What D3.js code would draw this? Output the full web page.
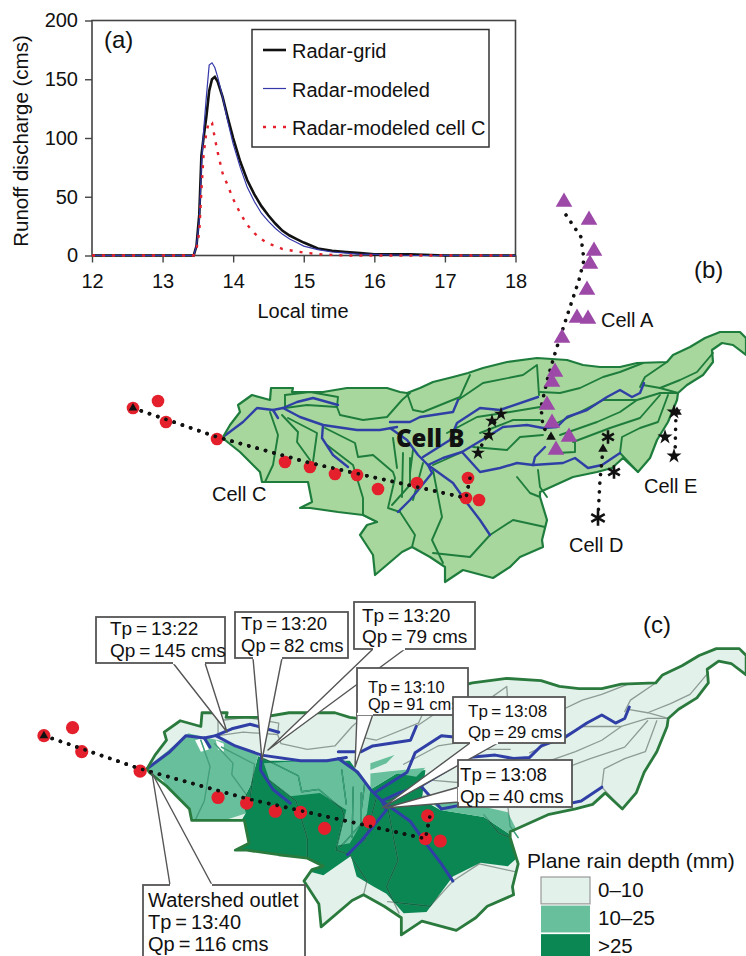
<!DOCTYPE html>
<html>
<head>
<meta charset="utf-8">
<script src="https://cdn.jsdelivr.net/npm/d3@7"></script>
<style>
  html, body { margin: 0; background: #fff; }
  svg { display: block; }
  text { font-family: "Liberation Sans", Arial, sans-serif; fill: #111; }
</style>
</head>
<body>
<svg id="fig" width="746" height="956"></svg>
<script>
// ---- panel (a) hydrograph values
var hours = [12, 13, 13.44, 13.48, 13.52, 13.55, 13.58, 13.62, 13.66, 13.7, 13.74, 13.78, 13.85, 13.92, 14, 14.1, 14.2, 14.3, 14.4, 14.5, 14.6, 14.7, 14.8, 14.9, 15, 15.2, 15.4, 15.6, 15.8, 16, 16.5, 17, 18];
var radarGrid = [0, 0, 0, 8, 35, 85, 100, 118, 140, 150, 152, 148, 135, 118, 100, 80, 64, 52, 42, 34, 27, 21, 17, 14, 11, 6, 4, 3, 2, 1, 1, 0, 0];
var radarModeled = [0, 0, 0, 8, 30, 75, 105, 135, 162, 164, 160, 152, 135, 115, 95, 75, 58, 46, 36, 29, 23, 18, 14, 11, 8, 5, 3, 2, 1, 1, 0, 0, 0];
var radarCellC = [0, 0, 0, 5, 20, 55, 85, 105, 114, 113, 100, 88, 70, 60, 48, 36, 26, 19, 14, 10, 8, 5.5, 4.5, 3.5, 2.5, 1.2, 0.5, 0, 0, 0, 0, 0, 0];
var xTicks = [12, 13, 14, 15, 16, 17, 18];
var yTicks = [0, 50, 100, 150, 200];
var legendNames = ["Radar-grid", "Radar-modeled", "Radar-modeled cell C"];

// ---- basin geometry in map units
var outline = [[223,437],[230,425],[240,412],[238,405],[252,395],[270,400],[271,388],[293,388],[292,392],[323,392],[347,388],[387,388],[400,392],[407,393],[420,388],[433,382],[453,377],[468,373],[483,368],[507,362],[537,358],[567,360],[583,365],[600,367],[620,367],[637,363],[667,362],[673,355],[690,347],[705,338],[720,332],[740,332],[746,338],[746,355],[733,345],[722,343],[712,350],[713,362],[703,375],[687,385],[678,393],[677,400],[668,422],[657,440],[650,458],[638,472],[623,458],[612,468],[597,472],[573,477],[540,492],[540,497],[547,520],[542,540],[543,547],[520,557],[510,567],[493,578],[463,570],[445,582],[445,567],[430,557],[412,547],[402,552],[375,575],[373,555],[360,535],[367,525],[377,522],[363,515],[338,512],[310,508],[300,508],[312,502],[308,482],[262,482],[260,472],[240,452],[225,440]];
var ridges = [
  [[285,395],[285,408],[307,405],[337,407],[340,415],[363,420],[387,417],[402,400],[410,393]],
  [[285,395],[310,392],[338,397],[337,407]],
  [[270,412],[278,435],[273,465],[265,482]],
  [[282,415],[298,432],[297,442],[310,460]],
  [[288,418],[317,433],[313,462]],
  [[325,428],[355,443],[358,457],[373,455],[393,472],[395,478],[388,508],[400,512]],
  [[327,445],[353,465],[363,498],[363,515],[377,522]],
  [[393,438],[397,468]],
  [[410,458],[410,485],[392,505]],
  [[400,512],[415,535],[412,547]],
  [[470,375],[460,397],[423,412],[413,410],[407,393]],
  [[458,400],[483,383],[523,375],[537,365],[539,395]],
  [[447,433],[477,417],[510,412],[540,407]],
  [[480,433],[513,420],[540,420]],
  [[473,447],[507,450],[520,437],[543,435]],
  [[517,477],[530,493],[540,497]],
  [[538,470],[540,487],[547,497]],
  [[433,470],[442,517],[432,540],[443,563]],
  [[490,535],[513,520],[545,527]],
  [[490,535],[470,557],[433,553]],
  [[403,453],[402,497]],
  [[413,450],[410,473]],
  [[423,463],[413,500]],
  [[460,453],[433,465]],
  [[540,392],[560,393],[580,388],[603,377],[620,372],[643,363]],
  [[640,387],[645,377],[667,362]],
  [[643,385],[660,388],[680,380],[697,372],[713,353]],
  [[660,388],[678,393]],
  [[557,423],[580,412],[603,400],[637,400],[660,393],[678,393]],
  [[560,435],[597,422],[620,412],[637,400]],
  [[573,442],[610,428],[640,418],[660,395]],
  [[620,453],[622,437],[640,428],[658,422],[668,395]],
  [[620,453],[638,472]],
  [[575,442],[575,452],[557,453]]
];
var streams = [
  [[223,437],[243,422],[257,408],[273,410],[283,408],[297,402],[313,398],[338,405]],
  [[283,408],[300,417],[323,425],[357,430],[380,430],[397,427]],
  [[323,425],[322,438],[333,455],[348,467]],
  [[273,410],[278,418]],
  [[390,428],[407,440],[418,455],[428,465],[432,473],[410,500],[398,512]],
  [[428,465],[443,458],[462,452],[480,472],[500,468],[517,463],[533,465],[563,463],[575,458],[588,468],[602,465],[620,453]],
  [[428,465],[453,483],[467,503],[480,520],[490,535]],
  [[533,465],[535,457],[545,447]],
  [[390,422],[410,422],[420,417],[453,412],[458,400]],
  [[423,457],[450,440],[457,423],[480,408],[500,410],[538,397]],
  [[462,452],[487,437],[503,427],[527,425],[543,428],[557,427],[567,417],[587,410],[607,397],[620,390],[632,397],[640,393],[644,383]]
];
var zoneOver25 = [
  [[320,426],[313,452],[307,464],[309,476],[295,500],[295,515],[340,520],[377,530],[401,513],[406,531],[421,540],[432,546],[447,563],[467,562],[490,531],[514,519],[538,522],[548,513],[547,499],[517,479],[479,473],[463,464],[466,438],[441,441],[418,455],[400,430],[330,430]]
];
var zone10to25 = [
  [[221,437],[240,422],[259,406],[298,415],[320,425],[313,452],[307,464],[309,476],[284,484],[255,484],[237,447]],
  [[325,432],[394,428],[403,438],[418,455],[415,476],[400,502],[389,504],[397,473],[374,458],[348,461],[330,447]],
  [[479,473],[517,479],[547,499],[549,497],[538,475],[495,465],[463,460]],
  [[418,441],[435,439],[466,436],[458,444],[441,441],[418,455]],
  [[418,432],[439,425],[432,432],[418,438]]
];
var whiteGaps = [
  [[265,412],[272,410],[277,420],[270,422]],
  [[283,412],[290,415],[290,422],[285,420]]
];

// ---- storm cell tracks and gauges
var cellCPoints = [[133,408],[158,401],[166,422],[217,439],[285,462],[310,467],[335,474],[357,475],[378,489],[417,483],[468,478],[466,498],[479,500]];
var cellCTrack = [[133,408],[217,437],[310,463],[417,487],[466,498],[470,478]];
var cellAPoints = [[564,202],[589,220],[594,251],[590,264],[587,290],[577,318],[588,319],[562,338],[555,372],[552,382],[547,405],[552,423],[569,437],[556,450]];
var cellATrack = [[566,215],[581,237],[584,260],[579,280],[569,310],[556,350],[548,377],[541,407],[543,427],[551,437]];
var cellBPoints = [[478,453],[489,435],[492,421],[501,414]];
var cellBTrack = [[478,453],[489,430],[501,414]];
var cellDPoints = [[598,518],[614,472],[608,437]];
var cellDTrack = [[598,518],[600,480],[603,449]];
var cellEPoints = [[674,412],[665,437],[674,456]];
var cellETrack = [[676,412],[675,456]];
var arrowHeads = [[551,437],[603,449],[677,412]];

var calloutLines = [
  ["Tp\u2009=\u200913:22", "Qp\u2009=\u2009145 cms"],
  ["Tp\u2009=\u200913:20", "Qp\u2009=\u200982 cms"],
  ["Tp\u2009=\u200913:20", "Qp\u2009=\u200979 cms"],
  ["Tp\u2009=\u200913:10", "Qp\u2009=\u200991 cms"],
  ["Tp\u2009=\u200913:08", "Qp\u2009=\u200929 cms"],
  ["Tp\u2009=\u200913:08", "Qp\u2009=\u200940 cms"],
  ["Watershed outlet", "Tp\u2009=\u200913:40", "Qp\u2009=\u2009116 cms"]
];
var rainClasses = ["0\u201310", "10\u201325", ">25"];

// ---- scales
var svg = d3.select("#fig");
var x = d3.scaleLinear().domain([12, 18]).range([92, 515.5]);
var y = d3.scaleLinear().domain([0, 200]).range([255.5, 20.5]);
var bx = d3.scaleLinear().domain([216, 745]).range([216, 745]);
var by = d3.scaleLinear().domain([438, 580]).range([438, 580]);
var cx = d3.scaleLinear().domain([216, 745]).range([139, 745]);
var cy = d3.scaleLinear().domain([438, 580]).range([770, 932.6]);

var axisColor = "#444";
var greenFill = "#a7d79d", greenLine = "#1e7d3c", blue = "#2f3fa6", red = "#e3202b", purple = "#9c49a8";
var lightRain = "#e2f1ea", midRain = "#68bf9c", darkRain = "#0b8753";

// ---- panel (a)
var a = svg.append("g");
a.append("rect").attr("x", x(12)).attr("y", y(200)).attr("width", x(18) - x(12)).attr("height", y(0) - y(200))
  .attr("fill", "none").attr("stroke", axisColor).attr("stroke-width", 1.6);

var xAxis = a.append("g").attr("transform", "translate(0," + y(0) + ")")
  .call(d3.axisBottom(x).tickValues(xTicks).tickSize(7).tickFormat(d3.format("d")).tickPadding(11));
var yAxis = a.append("g").attr("transform", "translate(" + x(12) + ",0)")
  .call(d3.axisLeft(y).tickValues(yTicks).tickSize(7).tickPadding(7));
[xAxis, yAxis].forEach(function(ax) {
  ax.select(".domain").remove();
  ax.selectAll("line").attr("stroke", axisColor).attr("stroke-width", 1.4);
  ax.selectAll("text").attr("font-size", 20).attr("font-family", '"Liberation Sans", Arial, sans-serif').attr("fill", "#111");
});

var curve = d3.line().x(function(d) { return x(d[0]); }).y(function(d) { return y(d[1]); });
var seriesStyle = [
  { values: radarGrid, color: "#111", width: 2.6, dash: null },
  { values: radarModeled, color: "#3438a8", width: 1.2, dash: null },
  { values: radarCellC, color: red, width: 2.4, dash: "3 7" }
];
seriesStyle.forEach(function(s, i) {
  var pts = hours.map(function(h, j) { return [h, s.values[j]]; });
  a.append("path").attr("d", curve(pts)).attr("fill", "none")
    .attr("stroke", s.color).attr("stroke-width", s.width).attr("stroke-dasharray", s.dash);
  // legend row
  var ly = 50 + i * 38.5;
  a.append("line").attr("x1", 263).attr("x2", 286).attr("y1", ly).attr("y2", ly)
    .attr("stroke", s.color).attr("stroke-width", s.width).attr("stroke-dasharray", s.dash);
});
a.append("rect").attr("x", 252).attr("y", 29.5).attr("width", 237).attr("height", 117.5)
  .attr("fill", "none").attr("stroke", "#333").attr("stroke-width", 1.5);
legendNames.forEach(function(n, i) {
  a.append("text").attr("x", 292).attr("y", 58 + i * 38.5).attr("font-size", 20).text(n);
});
a.append("text").attr("x", 104).attr("y", 48).attr("font-size", 24).text("(a)");
a.append("text").attr("x", 303).attr("y", 318).attr("text-anchor", "middle").attr("font-size", 20).text("Local time");
a.append("text").attr("transform", "translate(28,141) rotate(-90)").attr("text-anchor", "middle").attr("font-size", 20.5).text("Runoff discharge (cms)");

// ---- shared map helpers
function pathFor(sx, sy) {
  return d3.line().x(function(d) { return sx(d[0]); }).y(function(d) { return sy(d[1]); });
}
function addClip(id, polys, line) {
  var c = svg.append("clipPath").attr("id", id);
  polys.forEach(function(p) { c.append("path").attr("d", line(p) + "Z"); });
  return "url(#" + id + ")";
}
function drawLines(g, list, line, color, width) {
  g.selectAll(null).data(list).enter().append("path")
    .attr("d", line).attr("fill", "none").attr("stroke", color)
    .attr("stroke-width", width).attr("stroke-linejoin", "round").attr("stroke-linecap", "round");
}
function drawTrack(g, track, line) {
  g.append("path").attr("d", line(track)).attr("fill", "none").attr("stroke", "#111")
    .attr("stroke-width", 3.6).attr("stroke-linecap", "round").attr("stroke-dasharray", "0.1 8.6");
}
function drawSymbols(g, pts, sx, sy, type, size, color) {
  g.selectAll(null).data(pts).enter().append("path")
    .attr("transform", function(d) { return "translate(" + sx(d[0]) + "," + sy(d[1]) + ")"; })
    .attr("d", d3.symbol().type(type).size(size)).attr("fill", color);
}
function drawCellC(g, line, sx, sy, r) {
  drawTrack(g, cellCTrack, line);
  g.selectAll(null).data(cellCPoints).enter().append("circle")
    .attr("cx", function(d) { return sx(d[0]); }).attr("cy", function(d) { return sy(d[1]); })
    .attr("r", r).attr("fill", red);
  drawTrack(g, cellCTrack, line);
  drawSymbols(g, [cellCPoints[0]], sx, sy, d3.symbolTriangle, 32, "#111");
}

// ---- panel (b)
var b = svg.append("g");
var bLine = pathFor(bx, by);
b.append("path").attr("d", bLine(outline) + "Z").attr("fill", greenFill);
drawLines(b, ridges, bLine, greenLine, 1.9);
drawLines(b, streams, bLine, blue, 2.4);
b.append("path").attr("d", bLine(outline) + "Z").attr("fill", "none").attr("stroke", greenLine)
  .attr("stroke-width", 2.2).attr("stroke-linejoin", "round");
drawTrack(b, cellATrack, bLine);
drawTrack(b, cellBTrack, bLine);
drawTrack(b, cellDTrack, bLine);
drawTrack(b, cellETrack, bLine);
drawCellC(b, bLine, bx, by, 6.3);
drawSymbols(b, cellAPoints, bx, by, d3.symbolTriangle, 120, purple);
drawSymbols(b, cellBPoints, bx, by, d3.symbolStar, 60, "#111");
drawSymbols(b, cellEPoints, bx, by, d3.symbolStar, 70, "#111");
drawSymbols(b, arrowHeads, bx, by, d3.symbolTriangle, 40, "#111");
b.selectAll(null).data(cellDPoints).enter().append("path")
  .attr("transform", function(d) { return "translate(" + bx(d[0]) + "," + by(d[1]) + ")"; })
  .attr("d", function(d, i) { return d3.symbol().type(d3.symbolAsterisk).size(i === 0 ? 170 : 130)(); })
  .attr("fill", "none").attr("stroke", "#111").attr("stroke-width", 2.6);

var mapLabels = [["(b)", 694, 278, 24], ["Cell A", 601, 327, 20], ["Cell E", 644, 493, 20], ["Cell D", 569, 552, 20], ["Cell C", 212, 501, 20], ["(c)", 643, 633, 24]];
mapLabels.forEach(function(l) {
  svg.append("text").attr("x", l[1]).attr("y", l[2]).attr("font-size", l[3]).text(l[0]);
});
b.append("text").attr("x", 396).attr("y", 447).attr("font-size", 24)
  .style("font-family", '"Open Sans", sans-serif').style("font-weight", 800).attr("fill", "#111").text("Cell B");

// ---- panel (c)
var c = svg.append("g");
var cLine = pathFor(cx, cy);
var clipBasin = addClip("clip-basin", [outline], cLine);
var clipDark = addClip("clip-dark", zoneOver25, cLine);
var clipMid = addClip("clip-mid", zone10to25, cLine);
c.append("path").attr("d", cLine(outline) + "Z").attr("fill", lightRain);
var zones = c.append("g").attr("clip-path", clipBasin);
zones.selectAll(null).data(zoneOver25).enter().append("path").attr("d", function(d) { return cLine(d) + "Z"; }).attr("fill", darkRain);
zones.selectAll(null).data(zone10to25).enter().append("path").attr("d", function(d) { return cLine(d) + "Z"; }).attr("fill", midRain);
zones.selectAll(null).data(whiteGaps).enter().append("path").attr("d", function(d) { return cLine(d) + "Z"; }).attr("fill", "#fff");
drawLines(c, ridges, cLine, "#8d9c94", 1.3);
drawLines(c.append("g").attr("clip-path", clipDark), ridges, cLine, "#0a6a42", 1.3);
drawLines(c.append("g").attr("clip-path", clipMid), ridges, cLine, "#3aa47c", 1.3);
drawLines(c, streams, cLine, blue, 3);
c.append("path").attr("d", cLine(outline) + "Z").attr("fill", "none").attr("stroke", "#2a7a3e")
  .attr("stroke-width", 2.8).attr("stroke-linejoin", "round");
drawCellC(c, cLine, cx, cy, 6.6);

// callouts: box [x, y, w, h], text offset and size, pointer wedge
var calloutLayout = [
  { box: [96, 617, 129, 46], tx: 110, ty: 635, dy: 22, fs: 19, wedge: [[173, 663], [205, 663], [227, 732]] },
  { box: [235, 612, 113, 46], tx: 241, ty: 630, dy: 22, fs: 18.5, wedge: [[253, 658], [282, 658], [262, 760]] },
  { box: [354, 602, 121, 47], tx: 362, ty: 622, dy: 21, fs: 19, wedge: [[373, 649], [405, 649], [268, 750]] },
  { box: [357, 668, 111, 47], tx: 368, ty: 693, dy: 17, fs: 16.5, wedge: [[357, 714], [373, 714], [355, 767]] },
  { box: [453, 697, 112, 46], tx: 468, ty: 717, dy: 21, fs: 17, wedge: [[470, 743], [498, 743], [382, 808]] },
  { box: [458, 760, 114, 47], tx: 460, ty: 781, dy: 22, fs: 18.7, wedge: [[459, 787], [459, 802], [385, 808]] },
  { box: [143, 885, 162, 76], tx: 148, ty: 907, dy: 22, fs: 20, wedge: [[170, 885], [212, 885], [152, 773]] }
];
var calloutColor = "#555";
calloutLayout.forEach(function(l) {
  c.append("path").attr("d", d3.line()(l.wedge) + "Z").attr("fill", "#fff")
    .attr("stroke", calloutColor).attr("stroke-width", 1.4).attr("stroke-linejoin", "round");
});
calloutLayout.forEach(function(l, i) {
  c.append("rect").attr("x", l.box[0]).attr("y", l.box[1]).attr("width", l.box[2]).attr("height", l.box[3])
    .attr("fill", "#fff").attr("stroke", calloutColor).attr("stroke-width", 1.8);
  // cover the wedge base so it opens into the box
  c.append("path").attr("d", d3.line()([l.wedge[0], l.wedge[1]])).attr("stroke", "#fff").attr("stroke-width", 2.4);
  calloutLines[i].forEach(function(t, j) {
    c.append("text").attr("x", l.tx).attr("y", l.ty + j * l.dy).attr("font-size", l.fs).text(t);
  });
});

// rain legend
var rainColors = [lightRain, midRain, darkRain];
var swatchTop = d3.scaleBand().domain(rainClasses).range([877, 961]).paddingInner(0.06);
c.append("text").attr("x", 527).attr("y", 868).attr("font-size", 21).text("Plane rain depth (mm)");
rainClasses.forEach(function(k, i) {
  c.append("rect").attr("x", 541).attr("y", swatchTop(k)).attr("width", 49).attr("height", swatchTop.bandwidth())
    .attr("fill", rainColors[i]).attr("stroke", i === 0 ? "#999" : "none").attr("stroke-width", 1.2);
  c.append("text").attr("x", 598).attr("y", 897 + i * 28).attr("font-size", 20.5).text(k);
});
</script>
</body>
</html>
